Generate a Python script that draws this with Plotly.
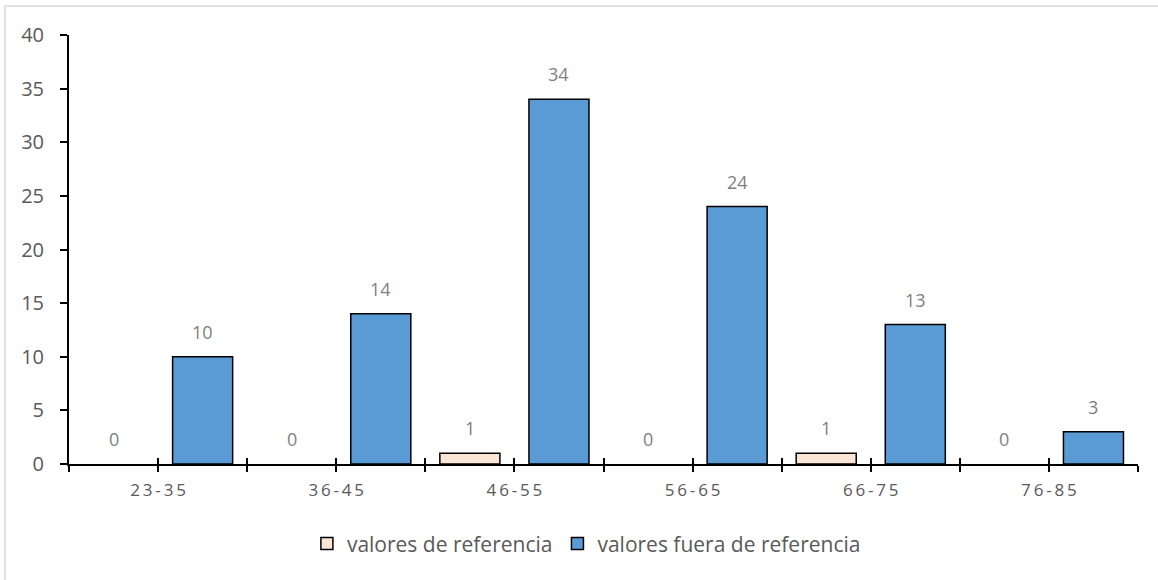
import plotly.graph_objects as go

# Age groups and counts per series
age_groups = ["23-35", "36-45", "46-55", "56-65", "66-75", "76-85"]
within_ref = [0, 0, 1, 0, 1, 0]
outside_ref = [10, 14, 34, 24, 13, 3]
series_names = ["valores de referencia", "valores fuera de referencia"]
y_ticks = [0, 5, 10, 15, 20, 25, 30, 35, 40]

FONT = "'Open Sans', sans-serif"
TICK_GREY = "#595959"
LABEL_GREY = "#7f7f7f"

n = len(age_groups)
centers = list(range(n))
offset = 0.25
bar_w = 0.337

def spaced(s):
    return "\u2009".join(s)

def drawn(vals):
    # zero-height bars are left undrawn; their label still reads 0
    return [v if v else None for v in vals]

fig = go.Figure()
fig.add_trace(go.Bar(
    x=[c - offset for c in centers], y=drawn(within_ref), width=bar_w,
    name=series_names[0],
    marker=dict(color="#fbe5d6", line=dict(color="black", width=1.5)),
))
fig.add_trace(go.Bar(
    x=[c + offset for c in centers], y=drawn(outside_ref), width=bar_w,
    name=series_names[1],
    marker=dict(color="#5b9bd5", line=dict(color="black", width=1.5)),
))

# value labels above each bar
annotations = []
for vals, sign in ((within_ref, -1), (outside_ref, 1)):
    for c, v in zip(centers, vals):
        annotations.append(dict(
            x=c + sign * offset, y=v, xref="x", yref="y", text=str(v),
            showarrow=False, yshift=25, yanchor="middle",
            font=dict(family=FONT, size=18, color=LABEL_GREY),
        ))

# tick marks at category centres and boundaries
tickvals = [k / 2 - 0.5 for k in range(2 * n + 1)]
ticktext = [spaced(age_groups[int(t)]) if t == int(t) and 0 <= t < n else "" for t in tickvals]

fig.update_layout(
    width=1158, height=580,
    margin=dict(l=69, r=20, t=35, b=116),
    paper_bgcolor="white", plot_bgcolor="white",
    barmode="overlay",
    showlegend=True,
    legend=dict(orientation="h", x=0.484, xanchor="center", y=-0.186, yanchor="middle",
                font=dict(family=FONT, size=21, color=TICK_GREY), traceorder="normal"),
    xaxis=dict(range=[-0.5, n - 0.5], tickmode="array", tickvals=tickvals, ticktext=ticktext,
               showline=True, linecolor="black", linewidth=2, ticks="outside", ticklen=6,
               tickwidth=2, tickcolor="black", showgrid=False, zeroline=False,
               tickfont=dict(family=FONT, size=17, color=TICK_GREY), ticklabelstandoff=4),
    xaxis2=dict(range=[-0.5, n - 0.5], overlaying="x", anchor="y", side="bottom",
                tickmode="array", tickvals=tickvals, showticklabels=False,
                ticks="inside", ticklen=6, tickwidth=2, tickcolor="black",
                showgrid=False, zeroline=False, showline=False),
    yaxis=dict(range=[0, 40], tickmode="array", tickvals=y_ticks, showline=True,
               linecolor="black", linewidth=2, ticks="outside", ticklen=7, tickwidth=2,
               tickcolor="black", showgrid=False, zeroline=False,
               tickfont=dict(family=FONT, size=20, color=TICK_GREY), ticklabelstandoff=12),
    annotations=annotations,
    shapes=[dict(type="rect", xref="paper", yref="paper", x0=-0.0599, x1=1.2,
                 y0=-0.5, y1=1.0676, line=dict(color="#d9d9d9", width=1.5),
                 fillcolor="rgba(0,0,0,0)", layer="below")],
)

# invisible trace to activate the secondary x axis used for inner tick marks
fig.add_trace(go.Scatter(x=[0], y=[0], xaxis="x2", mode="markers",
                         marker=dict(opacity=0), showlegend=False, hoverinfo="skip"))

fig.write_html("out.html")
